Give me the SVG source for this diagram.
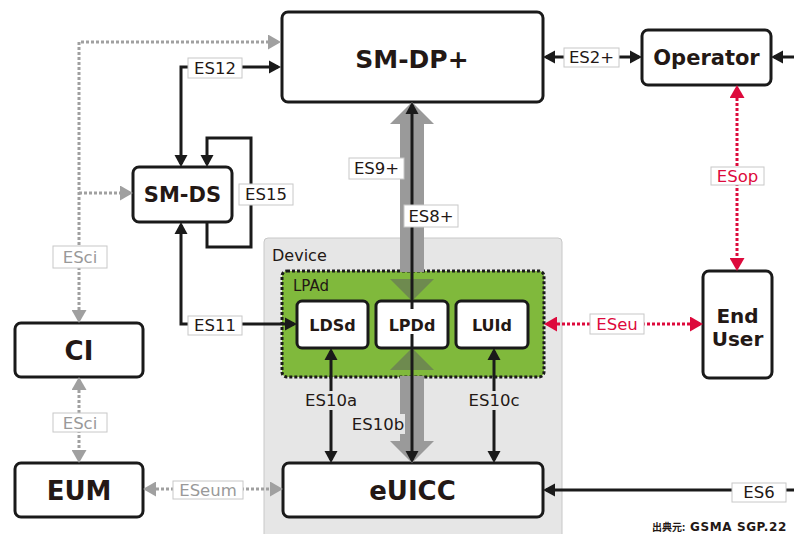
<svg xmlns="http://www.w3.org/2000/svg" width="794" height="534" viewBox="0 0 794 534">
<defs>
<style>
.box{fill:#fff;stroke:#1a1a1a;stroke-width:3}
.nt{font-family:"DejaVu Sans","Noto Sans",sans-serif;font-weight:bold;fill:#231815;text-anchor:middle;dominant-baseline:central}
.lt{font-family:"DejaVu Sans","Noto Sans",sans-serif;font-size:16.5px;fill:#231815;text-anchor:middle;dominant-baseline:central}
.lb{fill:#fff;stroke:#c8c8c8;stroke-width:1}
.lbg{fill:#e6e6e6;stroke:none}
.gray{fill:#9a9a9a}
.red{fill:#dd0a3c}
.blk{fill:none;stroke:#1a1a1a;stroke-width:3}
.gdot{fill:none;stroke:#a0a0a0;stroke-width:3;stroke-dasharray:3 2}
.rdot{fill:none;stroke:#dd0a3c;stroke-width:3;stroke-dasharray:3 2}
</style>
<marker id="ab" markerUnits="userSpaceOnUse" markerWidth="12" markerHeight="14" viewBox="0 0 12 14" refX="9" refY="7" orient="auto-start-reverse"><path d="M0,0.5 L12,7 L0,13.5 z" fill="#1a1a1a"/></marker>
<marker id="ag" markerUnits="userSpaceOnUse" markerWidth="13" markerHeight="15" viewBox="0 0 13 15" refX="10" refY="7.5" orient="auto-start-reverse"><path d="M0,0 L13,7.5 L0,15 z" fill="#a0a0a0"/></marker>
<marker id="ar" markerUnits="userSpaceOnUse" markerWidth="13" markerHeight="15" viewBox="0 0 13 15" refX="10" refY="7.5" orient="auto-start-reverse"><path d="M0,0 L13,7.5 L0,15 z" fill="#dd0a3c"/></marker>
</defs>
<rect width="794" height="534" fill="#fff"/>

<g id="device">
<rect x="264" y="238" width="298" height="300" rx="4" fill="#e6e6e6" stroke="#c8c8c8" stroke-width="1"/>
<text x="272" y="255" font-family="DejaVu Sans,sans-serif" font-size="16" fill="#231815" dominant-baseline="central">Device</text>
</g>
<g id="lpad">
<rect x="282" y="271" width="262" height="106" rx="5" fill="#80b93c" stroke="#1a1a1a" stroke-width="3" stroke-dasharray="3 2"/>
<text x="293" y="286" font-family="DejaVu Sans,sans-serif" font-size="15" fill="#231815" dominant-baseline="central">LPAd</text>
</g>

<g id="sm-dp">
<rect class="box" x="282" y="12" width="261" height="90" rx="6"/>
<text class="nt" x="412" y="59" font-size="25">SM-DP+</text>
</g>
<g id="operator">
<rect class="box" x="642" y="30" width="129" height="55" rx="6"/>
<text class="nt" x="706.5" y="58" font-size="21">Operator</text>
</g>
<g id="sm-ds">
<rect class="box" x="133" y="167" width="99" height="55" rx="6"/>
<text class="nt" x="182.5" y="195" font-size="21">SM-DS</text>
</g>
<g id="ci">
<rect class="box" x="15" y="323" width="128" height="54" rx="6"/>
<text class="nt" x="79" y="351" font-size="26">CI</text>
</g>
<g id="eum">
<rect class="box" x="15" y="463" width="128" height="54" rx="6"/>
<text class="nt" x="79" y="491" font-size="26">EUM</text>
</g>
<g id="euicc">
<rect class="box" x="283" y="463" width="260" height="54" rx="6"/>
<text class="nt" x="412.5" y="491" font-size="26">eUICC</text>
</g>
<g id="end-user">
<rect class="box" x="703" y="271" width="69" height="107" rx="6"/>
<text class="nt" x="737.5" y="316" font-size="20">End</text>
<text class="nt" x="737.5" y="339" font-size="20">User</text>
</g>
<g id="ldsd">
<rect class="box" x="297" y="301" width="71" height="47" rx="5"/>
<text class="nt" x="332.5" y="325" font-size="16">LDSd</text>
</g>
<g id="lpdd">
<rect class="box" x="376" y="301" width="72" height="47" rx="5"/>
<text class="nt" x="412" y="325" font-size="16">LPDd</text>
</g>
<g id="luid">
<rect class="box" x="456" y="301" width="72" height="47" rx="5"/>
<text class="nt" x="492" y="325" font-size="16">LUId</text>
</g>

<g id="connectors">
<!-- ES9+ / ES10b wide gray arrow -->
<polygon class="gray" points="412,102 434,124 424,124 424,272 400,272 400,124 390,124"/>
<polygon fill="#6e8a4f" points="390,279 434,279 412,301"/>
<polygon fill="#6e8a4f" points="412,348 434,370 390,370"/>
<polygon class="gray" points="400,376 424,376 424,441 434,441 412,463 390,441 400,441"/>

<path class="gdot" d="M79,320 L79,42 L278,42" marker-start="url(#ag)" marker-end="url(#ag)"/>
<path class="gdot" d="M79,193 L130,193" marker-end="url(#ag)"/>
<path class="gdot" d="M79,380 L79,460" marker-start="url(#ag)" marker-end="url(#ag)"/>
<path class="gdot" d="M146,489 L280,489" marker-start="url(#ag)" marker-end="url(#ag)"/>

<path class="blk" d="M181,164 L181,67 L278,67" marker-start="url(#ab)" marker-end="url(#ab)"/>
<path class="blk" d="M181,225 L181,324 L294,324" marker-start="url(#ab)" marker-end="url(#ab)"/>
<path class="blk" d="M207,221 L207,247 L251,247 L251,138 L207,138 L207,164" marker-end="url(#ab)"/>
<path class="blk" d="M546,57 L639,57" marker-start="url(#ab)" marker-end="url(#ab)"/>
<path class="blk" d="M794,57 L774,57" marker-end="url(#ab)"/>
<path class="blk" d="M794,490 L546,490" marker-end="url(#ab)"/>
<path class="blk" d="M331,351 L331,460" marker-start="url(#ab)" marker-end="url(#ab)"/>
<path class="blk" d="M494,351 L494,460" marker-start="url(#ab)" marker-end="url(#ab)"/>
<path class="blk" d="M412,105 L412,309 M412,334 L412,460" marker-start="url(#ab)" marker-end="url(#ab)"/>

<path class="rdot" d="M737,88 L737,268" marker-start="url(#ar)" marker-end="url(#ar)"/>
<path class="rdot" d="M547,324 L700,324" marker-start="url(#ar)" marker-end="url(#ar)"/>

<!-- labels -->
<rect class="lb" x="53" y="246" width="54" height="22"/>
<text class="lt" x="80" y="257" style="fill:#999">ESci</text>
<rect class="lb" x="53" y="413" width="54" height="19"/>
<text class="lt" x="80" y="423" style="fill:#999">ESci</text>
<rect class="lb" x="173" y="481" width="70" height="18"/>
<text class="lt" x="208" y="490" style="fill:#999">ESeum</text>
<rect class="lb" x="188" y="58" width="54" height="20"/>
<text class="lt" x="215" y="68">ES12</text>
<rect class="lb" x="188" y="316" width="54" height="19"/>
<text class="lt" x="215" y="325.5">ES11</text>
<rect class="lb" x="239" y="184" width="54" height="21"/>
<text class="lt" x="266" y="194.5">ES15</text>
<rect class="lb" x="349" y="158" width="55" height="21"/>
<text class="lt" x="376.5" y="168.5">ES9+</text>
<rect class="lb" x="404" y="205" width="54" height="22"/>
<text class="lt" x="431" y="216">ES8+</text>
<rect class="lb" x="564" y="48" width="55" height="19"/>
<text class="lt" x="591.5" y="57.5">ES2+</text>
<rect class="lb" x="711" y="167" width="53" height="18"/>
<text class="lt" x="737.5" y="176" style="fill:#dd0a3c">ESop</text>
<rect class="lb" x="590" y="314" width="54" height="20"/>
<text class="lt" x="617" y="324" style="fill:#dd0a3c">ESeu</text>
<rect class="lb" x="732" y="483" width="54" height="19"/>
<text class="lt" x="759" y="492.5">ES6</text>
<rect class="lbg" x="305" y="391" width="52" height="19"/>
<text class="lt" x="331" y="400">ES10a</text>
<rect class="lbg" x="468" y="391" width="52" height="19"/>
<text class="lt" x="494" y="400">ES10c</text>
<rect class="lbg" x="350" y="414" width="55" height="20"/>
<text class="lt" x="378" y="424">ES10b</text>
</g>

<text x="652" y="531" font-family="DejaVu Sans,'Noto Sans CJK JP',sans-serif" font-weight="bold" fill="#231815"><tspan font-family="'Noto Sans CJK JP',sans-serif" font-size="10">出典元:</tspan><tspan x="690" font-size="12" letter-spacing="0.6">GSMA SGP.22</tspan></text>
</svg>
